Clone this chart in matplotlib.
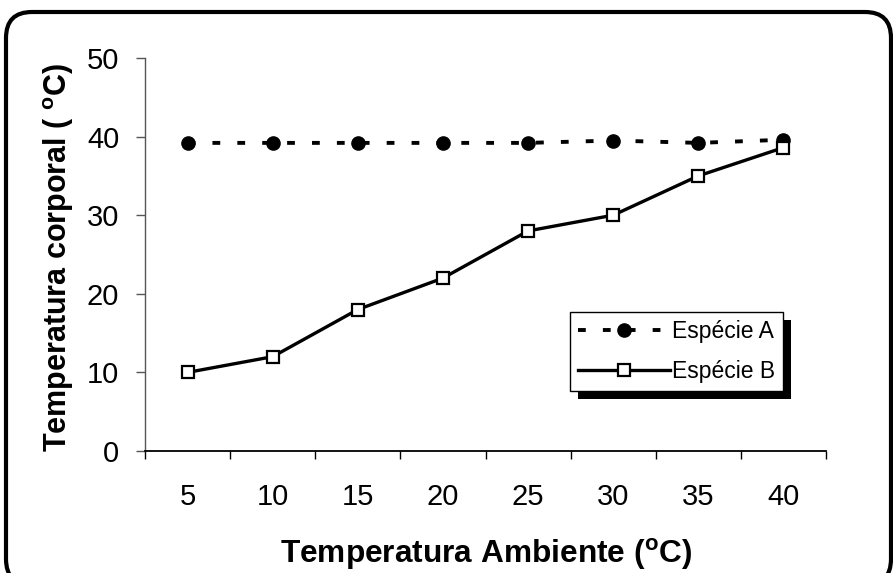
import matplotlib
matplotlib.use("Agg")
import matplotlib.pyplot as plt
from matplotlib.patches import FancyBboxPatch, Rectangle
import numpy as np

plt.rcParams['font.family'] = ['Liberation Sans', 'DejaVu Sans']
plt.rcParams['mathtext.fontset'] = 'custom'
plt.rcParams['mathtext.rm'] = 'Liberation Sans'
plt.rcParams['mathtext.bf'] = 'Liberation Sans:bold'

categories = ['5', '10', '15', '20', '25', '30', '35', '40']
especie_a = [39.2, 39.2, 39.2, 39.2, 39.2, 39.5, 39.2, 39.6]
especie_b = [10, 12, 18, 22, 28, 30, 35, 38.6]
yticks = [0, 10, 20, 30, 40, 50]

W, H = 893, 573
fig = plt.figure(figsize=(W/100, H/100), dpi=100)
ax = fig.add_axes([145/W, 1-451/H, (826-145)/W, (451-58)/H])

x = np.arange(len(categories))
ax.plot(x, especie_a, color='black', linestyle=(0, (2.0, 4.4)), linewidth=2.8,
        marker='o', markersize=9.5, markerfacecolor='black', markeredgecolor='black',
        label='Espécie A')
ax.plot(x, especie_b, color='black', linestyle='-', linewidth=2.4,
        marker='s', markersize=9, markerfacecolor='white', markeredgecolor='black',
        markeredgewidth=1.6, label='Espécie B')

ax.set_xlim(-0.5, len(categories) - 0.5)
ax.set_ylim(0, 50)
ax.set_yticks(yticks)
ax.set_yticklabels([str(v) for v in yticks], fontsize=21)
ax.set_xticks(x)
ax.set_xticklabels(categories, fontsize=21)
ax.set_xticks(np.arange(len(categories) + 1) - 0.5, minor=True)
ax.tick_params(axis='x', which='major', length=0, pad=23)
ax.tick_params(axis='x', which='minor', length=6, width=1, color='black', direction='out')
ax.tick_params(axis='y', which='major', length=6.5, width=1, color='#555555', direction='out', pad=12)

ax.spines['top'].set_visible(False)
ax.spines['right'].set_visible(False)
ax.spines['left'].set_color('#555555')
ax.spines['left'].set_linewidth(1)
ax.spines['bottom'].set_color('black')
ax.spines['bottom'].set_linewidth(1.3)

fig.text(486/W, 1-563/H, r'Temperatura Ambiente ($^{\mathbf{o}}$C)', fontsize=22.8,
         fontweight='bold', ha='center', va='baseline')
fig.text(67/W, 1-257.5/H, r'Temperatura corporal ( $^{\mathbf{o}}$C)', fontsize=22,
         fontweight='bold', ha='center', va='baseline', rotation=90, rotation_mode='anchor')

leg = ax.legend(loc='upper left', bbox_to_anchor=(570/W, 1-312/H), bbox_transform=fig.transFigure,
                fontsize=16.5, frameon=True, fancybox=False, edgecolor='black', framealpha=1,
                handlelength=4.0, handletextpad=0.1, borderpad=0.35, labelspacing=0.75,
                borderaxespad=0)
leg.get_frame().set_linewidth(1)
leg.set_zorder(10)

fig.canvas.draw()
bb = leg.get_window_extent()
shadow = Rectangle((bb.x0 + 8, bb.y0 - 8), bb.width, bb.height, transform=None,
                   facecolor='black', edgecolor='none', zorder=9, clip_on=False)
ax.add_artist(shadow)

x0, x1 = 6, 891
ytop, ybot = 12, 585
border = FancyBboxPatch((x0/100, (H-ybot)/100), (x1-x0)/100, (ybot-ytop)/100,
                        boxstyle='round,pad=0,rounding_size=0.26', transform=fig.dpi_scale_trans,
                        facecolor='none', edgecolor='black', linewidth=3, clip_on=False)
fig.add_artist(border)

fig.savefig('out.png', dpi=100)
